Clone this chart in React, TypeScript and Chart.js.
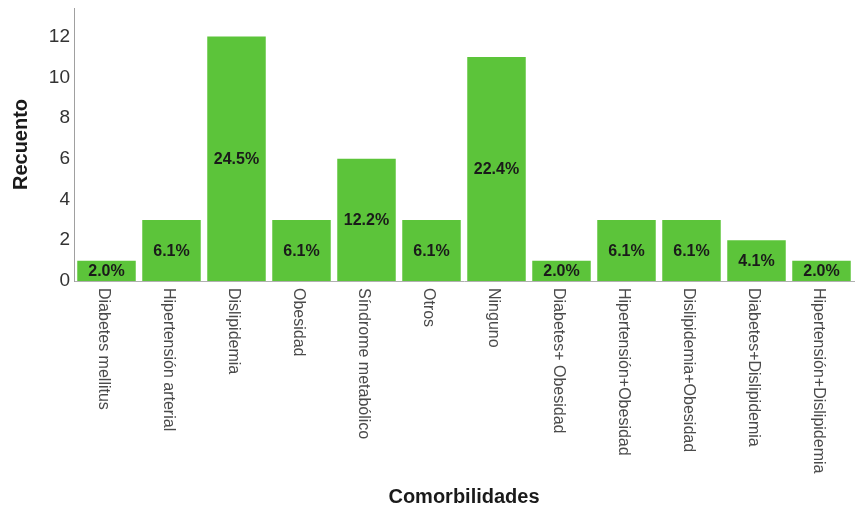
import React, { useEffect, useRef } from "react";
import { Chart, registerables } from "chart.js";

Chart.register(...registerables);

const categories = [
  "Diabetes mellitus",
  "Hipertensión arterial",
  "Dislipidemia",
  "Obesidad",
  "Síndrome metabólico",
  "Otros",
  "Ninguno",
  "Diabetes+ Obesidad",
  "Hipertensión+Obesidad",
  "Dislipidemia+Obesidad",
  "Diabetes+Dislipidemia",
  "Hipertensión+Dislipidemia",
];
const counts = [1, 3, 12, 3, 6, 3, 11, 1, 3, 3, 2, 1];
const percentLabels = ["2.0%", "6.1%", "24.5%", "6.1%", "12.2%", "6.1%", "22.4%", "2.0%", "6.1%", "6.1%", "4.1%", "2.0%"];
const yTicks = [0, 2, 4, 6, 8, 10, 12];

const FONT = "'Liberation Sans', Arial, sans-serif";

const customLabels = {
  id: "customLabels",
  afterDatasetsDraw(chart: any) {
    const { ctx } = chart;
    const meta = chart.getDatasetMeta(0);
    ctx.save();
    ctx.font = `bold 16px ${FONT}`;
    ctx.fillStyle = "#1a1a1a";
    ctx.textAlign = "center";
    ctx.textBaseline = "middle";
    meta.data.forEach((bar: any, i: number) => {
      const y = (bar.y + bar.base) / 2;
      ctx.fillText(percentLabels[i], bar.x, y + 1);
    });
    ctx.restore();
  },
  afterDraw(chart: any) {
    const { ctx } = chart;
    const xs = chart.scales.x;
    ctx.save();
    ctx.font = `16px ${FONT}`;
    ctx.fillStyle = "#4a4a4a";
    ctx.textAlign = "left";
    ctx.textBaseline = "middle";
    categories.forEach((c, i) => {
      const x = xs.getPixelForTick(i);
      ctx.save();
      ctx.translate(x - 3, xs.top + 7);
      ctx.rotate(Math.PI / 2);
      ctx.fillText(c, 0, 0);
      ctx.restore();
    });
    ctx.restore();
  },
};

export default function App() {
  const ref = useRef<HTMLCanvasElement | null>(null);
  useEffect(() => {
    if (!ref.current) return;
    const chart = new Chart(ref.current, {
      type: "bar",
      data: {
        labels: categories,
        datasets: [
          {
            data: counts,
            backgroundColor: "#5cc43a",
            borderWidth: 0,
            barPercentage: 0.9,
            categoryPercentage: 1,
          },
        ],
      },
      options: {
        responsive: false,
        animation: false,
        layout: { padding: { top: 8, right: 6, left: 0, bottom: 0 } },
        plugins: { legend: { display: false }, tooltip: { enabled: false } },
        scales: {
          x: {
            grid: { display: false, drawTicks: false },
            border: { display: true, color: "#b0b0b0" },
            ticks: { display: false },
            title: {
              display: true,
              text: "Comorbilidades",
              color: "#1a1a1a",
              font: { family: FONT, size: 20, weight: "bold" },
              padding: { top: 0, bottom: 5 },
            },
            afterFit(scale: any) {
              scale.height = 233;
              scale.paddingLeft = 0;
              scale.paddingRight = 0;
            },
          },
          y: {
            min: 0,
            max: 13.4,
            grid: { display: false, drawTicks: false },
            border: { display: true, color: "#a0a0a0", width: 1 },
            ticks: {
              stepSize: 2,
              padding: 4,
              color: "#333333",
              font: { family: FONT, size: 19 },
            },
            afterBuildTicks(scale: any) {
              scale.ticks = yTicks.map((v) => ({ value: v }));
            },
            title: {
              display: true,
              text: "Recuento",
              color: "#1a1a1a",
              font: { family: FONT, size: 20, weight: "bold" },
              padding: { top: 9, bottom: 0 },
            },
            afterFit(scale: any) {
              scale.width = 74;
              scale.paddingTop = 0;
              scale.paddingBottom = 0;
            },
          },
        },
      },
      plugins: [customLabels],
    });
    return () => chart.destroy();
  }, []);
  return (
    <div style={{ position: "fixed", left: 0, top: 0, width: 860, height: 514, background: "#fff" }}>
      <canvas ref={ref} width={860} height={514} />
    </div>
  );
}
